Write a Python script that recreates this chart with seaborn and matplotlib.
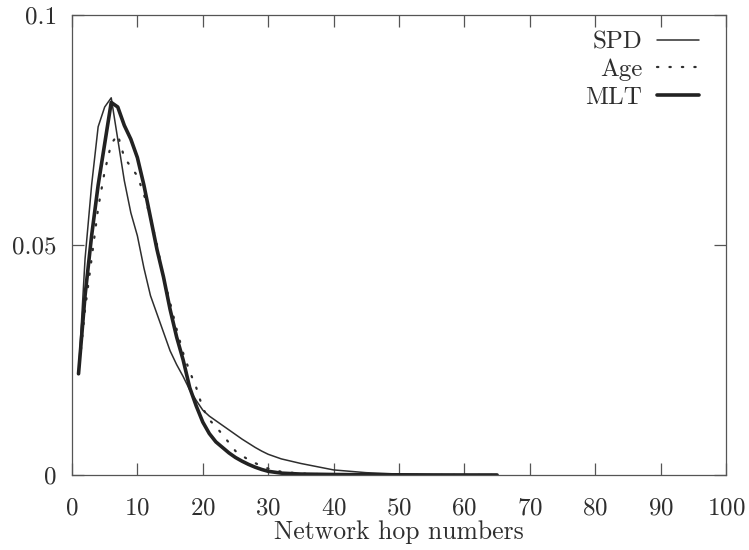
import numpy as np
import pandas as pd
import matplotlib
matplotlib.use('Agg')
import matplotlib.pyplot as plt
import seaborn as sns

# hop counts and distributions
hops = [1, 2, 3, 4, 5, 6, 7, 8, 9, 10, 11, 12, 13, 14, 15, 16, 17, 18, 19, 20,
        21, 22, 23, 24, 25, 26, 27, 28, 29, 30, 32, 35, 40, 45, 50, 55, 60, 65]
spd = [0.022, 0.047, 0.063, 0.0757, 0.080, 0.082, 0.073, 0.064, 0.057, 0.052,
       0.045, 0.039, 0.035, 0.031, 0.027, 0.024, 0.0214, 0.0185, 0.0162, 0.0141,
       0.0128, 0.0118, 0.0108, 0.0098, 0.0088, 0.0078, 0.0069, 0.006, 0.0052, 0.0045,
       0.0035, 0.0025, 0.0011, 0.0005, 0.0002, 0.0001, 0.00005, 0.0]
age = [0.022, 0.036, 0.047, 0.058, 0.066, 0.072, 0.074, 0.069, 0.067, 0.065,
       0.061, 0.056, 0.050, 0.043, 0.0375, 0.0317, 0.0265, 0.0225, 0.019, 0.0145,
       0.012, 0.0105, 0.0088, 0.007, 0.0052, 0.0042, 0.0033, 0.0026, 0.0019, 0.0014,
       0.0007, 0.0003, 0.0001, 0.0, 0.0, 0.0, 0.0, 0.0]
mlt = [0.022, 0.039, 0.052, 0.063, 0.072, 0.081, 0.080, 0.076, 0.073, 0.069,
       0.063, 0.056, 0.049, 0.043, 0.036, 0.030, 0.025, 0.019, 0.015, 0.0115,
       0.009, 0.0072, 0.006, 0.0048, 0.0038, 0.003, 0.0023, 0.0017, 0.0012, 0.0008,
       0.0004, 0.0002, 0.0001, 0.00005, 0.00003, 0.0, 0.0, 0.0]

x_ticks = [0, 10, 20, 30, 40, 50, 60, 70, 80, 90, 100]
y_ticks = [0, 0.05, 0.1]
y_tick_labels = ['0', '0.05', '0.1']

sns.set_style('ticks')
plt.rcParams['font.family'] = ['cmr10', 'DejaVu Serif']
plt.rcParams['axes.formatter.use_mathtext'] = True
plt.rcParams['mathtext.fontset'] = 'cm'

ink = '#2e2e2e'
fig = plt.figure(figsize=(7.49, 5.50), dpi=100)
ax = fig.add_axes([0.0961, 0.1364, 0.8732, 0.8363])

df = pd.DataFrame({'hop': hops, 'SPD': spd, 'Age': age, 'MLT': mlt})
sns.lineplot(data=df, x='hop', y='SPD', ax=ax, color=ink, linewidth=1.1,
             estimator=None, label='SPD')
sns.lineplot(data=df, x='hop', y='Age', ax=ax, color=ink, linewidth=1.6,
             estimator=None, label='Age', dashes=False)
sns.lineplot(data=df, x='hop', y='MLT', ax=ax, color='#222222', linewidth=2.6,
             estimator=None, label='MLT')
age_line = ax.get_lines()[1]
age_line.set_dashes((0.6, 5.0))
age_line.set_dash_capstyle('round')

ax.set_xlim(0, 100)
ax.set_ylim(0, 0.1)
ax.set_xticks(x_ticks)
ax.set_yticks(y_ticks)
ax.set_yticklabels(y_tick_labels)
ax.tick_params(direction='in', length=8.5, width=0.9, color='#555555',
               top=True, right=True, labelsize=18, labelcolor=ink)
ax.tick_params(axis='x', pad=16)
ax.tick_params(axis='y', pad=11)
for s in ax.spines.values():
    s.set_color('#555555')
    s.set_linewidth(0.9)

ax.set_xlabel('Network hop numbers', fontsize=18.5, color=ink, labelpad=1)
ax.set_ylabel('')

leg = ax.legend(loc='upper right', bbox_to_anchor=(0.958, 0.965), frameon=False,
                markerfirst=False, fontsize=18, handlelength=1.65,
                handletextpad=0.6, labelspacing=0.2, borderpad=0, borderaxespad=0)
for t in leg.get_texts():
    t.set_color(ink)

plt.savefig('out.png', dpi=100)
